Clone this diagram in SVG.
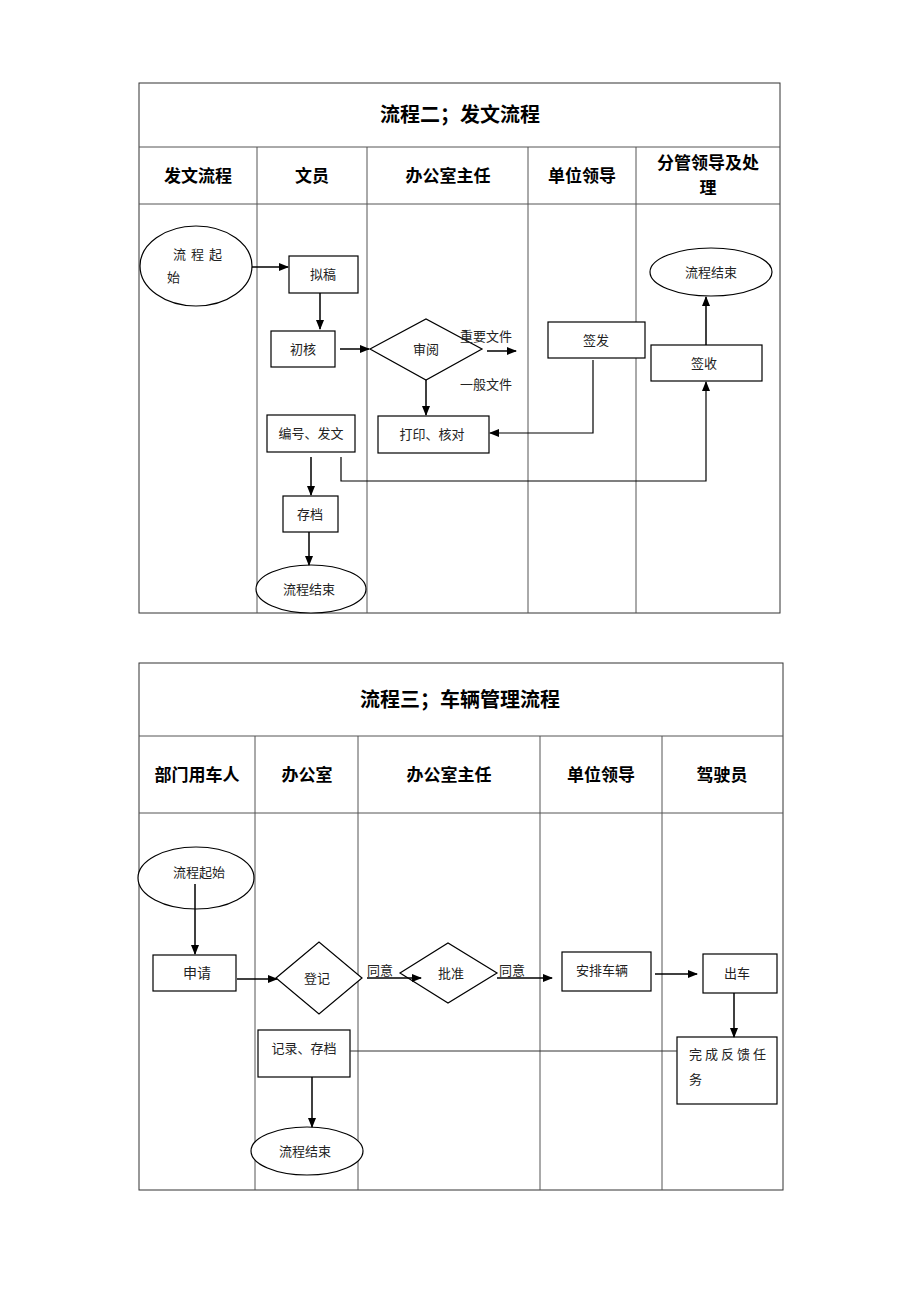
<svg xmlns="http://www.w3.org/2000/svg" width="920" height="1302" viewBox="0 0 920 1302">
<style>
.tb{fill:none;stroke:#333;stroke-width:1}
.ln{stroke:#555;stroke-width:1}
.nd{fill:#fff;stroke:#000;stroke-width:1.2}
.t{font-family:"Noto Sans CJK SC","Liberation Sans",sans-serif;font-size:13px;fill:#222}
.h{font-family:"Noto Sans CJK SC","Liberation Sans",sans-serif;font-size:17px;font-weight:bold;fill:#000;text-anchor:middle}
.ti{font-family:"Noto Sans CJK SC","Liberation Sans",sans-serif;font-size:20px;font-weight:bold;fill:#000;text-anchor:middle}
.c{stroke:#000;stroke-width:1.5;fill:none}
.c2{stroke:#000;stroke-width:1.2;fill:none}
.mid{text-anchor:middle}
</style>
<defs>
<marker id="ah" markerWidth="10" markerHeight="8" refX="9" refY="4" orient="auto" markerUnits="userSpaceOnUse">
<path d="M0,0 L10,4 L0,8 Z" fill="#000"/>
</marker>
</defs>
<rect width="920" height="1302" fill="#fff"/>

<g id="table1">
<rect class="tb" x="139" y="83" width="641" height="530"/>
<line class="ln" x1="139" y1="147" x2="780" y2="147"/>
<line class="ln" x1="139" y1="204" x2="780" y2="204"/>
<line class="ln" x1="257" y1="147" x2="257" y2="613"/>
<line class="ln" x1="367" y1="147" x2="367" y2="613"/>
<line class="ln" x1="528" y1="147" x2="528" y2="613"/>
<line class="ln" x1="636" y1="147" x2="636" y2="613"/>
<text class="ti" x="460" y="122">流程二；发文流程</text>
<text class="h" x="198" y="182">发文流程</text>
<text class="h" x="312" y="182">文员</text>
<text class="h" x="448" y="182">办公室主任</text>
<text class="h" x="582" y="182">单位领导</text>
<text class="h" x="708" y="169">分管领导及处</text>
<text class="h" x="708" y="194">理</text>
</g>

<g id="table2">
<rect class="tb" x="139" y="663" width="644" height="527"/>
<line class="ln" x1="139" y1="736" x2="783" y2="736"/>
<line class="ln" x1="139" y1="813" x2="783" y2="813"/>
<line class="ln" x1="255" y1="736" x2="255" y2="1190"/>
<line class="ln" x1="358" y1="736" x2="358" y2="1190"/>
<line class="ln" x1="540" y1="736" x2="540" y2="1190"/>
<line class="ln" x1="662" y1="736" x2="662" y2="1190"/>
<text class="ti" x="460" y="707">流程三；车辆管理流程</text>
<text class="h" x="197" y="781">部门用车人</text>
<text class="h" x="307" y="781">办公室</text>
<text class="h" x="449" y="781">办公室主任</text>
<text class="h" x="601" y="781">单位领导</text>
<text class="h" x="722" y="781">驾驶员</text>
</g>

<g id="n-start1">
<ellipse class="nd" cx="196" cy="266" rx="56" ry="40"/>
<text class="t" x="173" y="259" letter-spacing="5">流程起</text>
<text class="t" x="167" y="282">始</text>
</g>
<g id="n-draft">
<rect class="nd" x="289" y="256" width="69" height="37"/>
<text class="t mid" x="323" y="279">拟稿</text>
</g>
<g id="n-check">
<rect class="nd" x="271" y="331" width="64" height="36"/>
<text class="t mid" x="303" y="354">初核</text>
</g>
<g id="n-review">
<polygon class="nd" points="370,349 426,319 482,349 426,380"/>
<text class="t mid" x="426" y="354">审阅</text>
</g>
<g id="n-sign">
<rect class="nd" x="548" y="322" width="97" height="36"/>
<text class="t mid" x="596" y="345">签发</text>
</g>
<g id="n-print">
<rect class="nd" x="378" y="416" width="111" height="37"/>
<text class="t mid" x="432" y="439">打印、核对</text>
</g>
<g id="n-number">
<rect class="nd" x="267" y="415" width="88" height="37"/>
<text class="t mid" x="311" y="438">编号、发文</text>
</g>
<g id="n-receive">
<rect class="nd" x="651" y="345" width="111" height="36"/>
<text class="t mid" x="704" y="368">签收</text>
</g>
<g id="n-end1a">
<ellipse class="nd" cx="711" cy="272" rx="61" ry="24"/>
<text class="t mid" x="711" y="277">流程结束</text>
</g>
<g id="n-archive">
<rect class="nd" x="283" y="496" width="55" height="36"/>
<text class="t mid" x="310" y="519">存档</text>
</g>
<g id="n-end1b">
<ellipse class="nd" cx="311" cy="589" rx="55" ry="24"/>
<text class="t mid" x="309" y="594">流程结束</text>
</g>

<g id="n-start2">
<ellipse class="nd" cx="196" cy="878" rx="58" ry="31"/>
<text class="t mid" x="199" y="877">流程起始</text>
</g>
<g id="n-apply">
<rect class="nd" x="153" y="955" width="83" height="36"/>
<text class="t mid" x="197" y="978" style="font-size:14px">申请</text>
</g>
<g id="n-register">
<polygon class="nd" points="276,978 319,942 362,978 319,1014"/>
<text class="t mid" x="317" y="983">登记</text>
</g>
<g id="n-approve">
<polygon class="nd" points="400,973 448,943 497,973 448,1003"/>
<text class="t mid" x="451" y="978">批准</text>
</g>
<g id="n-arrange">
<rect class="nd" x="562" y="952" width="89" height="39"/>
<text class="t mid" x="602" y="975">安排车辆</text>
</g>
<g id="n-depart">
<rect class="nd" x="703" y="954" width="74" height="39"/>
<text class="t mid" x="737" y="978">出车</text>
</g>
<g id="n-feedback">
<rect class="nd" x="677" y="1037" width="100" height="67"/>
<text class="t" x="689" y="1059" letter-spacing="3">完成反馈任</text>
<text class="t" x="689" y="1084">务</text>
</g>
<g id="n-record">
<rect class="nd" x="258" y="1030" width="92" height="47"/>
<text class="t mid" x="304" y="1053">记录、存档</text>
</g>
<g id="n-end2">
<ellipse class="nd" cx="307" cy="1151" rx="56" ry="24"/>
<text class="t mid" x="305" y="1156">流程结束</text>
</g>

<g id="connectors">
<line class="c" x1="252" y1="267" x2="288" y2="267" marker-end="url(#ah)"/>
<line class="c" x1="320" y1="293" x2="320" y2="329" marker-end="url(#ah)"/>
<line class="c" x1="340" y1="349" x2="369" y2="349" marker-end="url(#ah)"/>
<line class="c" x1="487" y1="351" x2="516" y2="351" marker-end="url(#ah)"/>
<line class="c" x1="426" y1="380" x2="426" y2="415" marker-end="url(#ah)"/>
<polyline class="c2" points="593,360 593,433 490,433" marker-end="url(#ah)"/>
<line class="c" x1="311" y1="457" x2="311" y2="495" marker-end="url(#ah)"/>
<polyline class="c2" points="341,457 341,481 706,481 706,382" marker-end="url(#ah)"/>
<line class="c" x1="706" y1="345" x2="706" y2="297" marker-end="url(#ah)"/>
<line class="c" x1="309" y1="532" x2="309" y2="565" marker-end="url(#ah)"/>

<line class="c" x1="195" y1="884" x2="195" y2="954" marker-end="url(#ah)"/>
<line class="c" x1="237" y1="979" x2="277" y2="979" marker-end="url(#ah)"/>
<line class="c" x1="367" y1="978" x2="421" y2="978" marker-end="url(#ah)"/>
<line class="c" x1="497" y1="978" x2="552" y2="978" marker-end="url(#ah)"/>
<line class="c" x1="655" y1="974" x2="697" y2="974" marker-end="url(#ah)"/>
<line class="c" x1="734" y1="993" x2="734" y2="1037" marker-end="url(#ah)"/>
<line class="c" x1="312" y1="1077" x2="312" y2="1127" marker-end="url(#ah)"/>
<line x1="350" y1="1051" x2="677" y2="1051" stroke="#333" stroke-width="1"/>
<text class="t" x="460" y="341">重要文件</text>
<text class="t" x="460" y="389">一般文件</text>
<text class="t" x="367" y="975">同意</text>
<text class="t" x="499" y="975">同意</text>
</g>
</svg>
